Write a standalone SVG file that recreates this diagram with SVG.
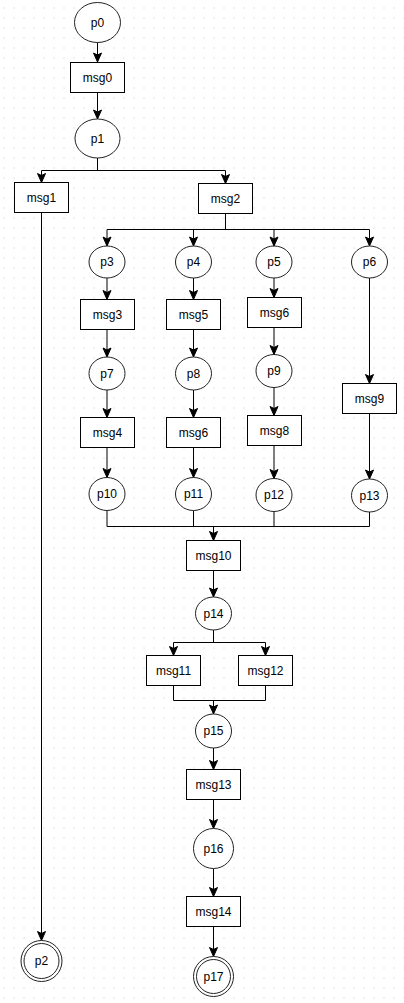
<svg xmlns="http://www.w3.org/2000/svg" width="404" height="1003" viewBox="0 0 404 1003">
<defs>
<pattern id="grid" patternUnits="userSpaceOnUse" width="10" height="10">
<rect x="3.5" y="7.5" width="1" height="1" fill="#c8c8c8"/>
</pattern>
<marker id="arr" markerUnits="userSpaceOnUse" markerWidth="10" markerHeight="9" refX="9" refY="4" orient="auto" overflow="visible">
<path d="M0,0 L9,4 L0,8 L2,4 Z" fill="#000" stroke="#000" stroke-width="1" stroke-linejoin="miter"/>
</marker>
</defs>
<style>
.n{fill:#fff;stroke:#000;stroke-width:1}
.p{fill:#fff;stroke:#222;stroke-width:1}
.t{font-family:"Liberation Sans",Arial,Helvetica,sans-serif;font-size:12px;fill:#000;text-anchor:middle}
.c{fill:none;stroke:#000;stroke-width:1}
.a{fill:none;stroke:#000;stroke-width:1;marker-end:url(#arr)}
</style>
<rect width="404" height="1003" fill="#fff"/>
<rect width="404" height="1003" fill="url(#grid)"/>

<g id="connectors">
<path class="a" d="M97.5,42 V62"/>
<path class="a" d="M97.5,92.5 V119"/>
<path class="c" d="M97.5,158 V170.5"/>
<path class="c" d="M41.5,170.5 H225.5"/>
<path class="a" d="M41.5,170.5 V182.5"/>
<path class="a" d="M225.5,170.5 V183.5"/>
<path class="a" d="M41.5,212.5 V940.5"/>
<path class="c" d="M225.5,213.5 V229.5"/>
<path class="c" d="M107,229.5 H369.5"/>
<path class="a" d="M107,229.5 V246"/>
<path class="a" d="M193.5,229.5 V246"/>
<path class="a" d="M274,229.5 V246"/>
<path class="a" d="M369.5,229.5 V246"/>
<path class="a" d="M107,278 V299.5"/>
<path class="a" d="M193.5,278 V299.5"/>
<path class="a" d="M274,278 V297.5"/>
<path class="a" d="M369.5,278 V383.5"/>
<path class="a" d="M107,329.5 V357"/>
<path class="a" d="M193.5,329.5 V357"/>
<path class="a" d="M274,327.5 V354.5"/>
<path class="a" d="M107,390 V417.5"/>
<path class="a" d="M193.5,390 V417.5"/>
<path class="a" d="M274,387.5 V415.5"/>
<path class="a" d="M107,447.5 V477.5"/>
<path class="a" d="M193.5,447.5 V477.5"/>
<path class="a" d="M274,445.5 V478.5"/>
<path class="a" d="M369.5,413.5 V479"/>
<path class="c" d="M107,510.5 V526.5 M193.5,510.5 V526.5 M274,511.5 V526.5 M369.5,512 V526.5 M107,526.5 H369.5"/>
<path class="a" d="M213.5,526.5 V540.5"/>
<path class="a" d="M213.5,570.5 V597"/>
<path class="c" d="M213.5,630 V642.5 M173.5,642.5 H265.5"/>
<path class="a" d="M173.5,642.5 V655.5"/>
<path class="a" d="M265.5,642.5 V655.5"/>
<path class="c" d="M173.5,685.5 V700.5 M265.5,685.5 V700.5 M173.5,700.5 H265.5"/>
<path class="a" d="M213.5,700.5 V714"/>
<path class="a" d="M213.5,748 V769.5"/>
<path class="a" d="M213.5,799.5 V828.5"/>
<path class="a" d="M213.5,868.5 V896.5"/>
<path class="a" d="M213.5,926.5 V956.5"/>
</g>

<g id="p0"><ellipse class="p" cx="97.5" cy="22.5" rx="23" ry="20"/><text class="t" x="97.5" y="26.5">p0</text></g>
<g id="msg0"><rect class="n" x="70.5" y="62.5" width="54" height="30"/><text class="t" x="97.5" y="81.5">msg0</text></g>
<g id="p1"><ellipse class="p" cx="97.5" cy="138.5" rx="22.5" ry="19.5"/><text class="t" x="97.5" y="142.5">p1</text></g>
<g id="msg1"><rect class="n" x="14.5" y="182.5" width="54" height="30"/><text class="t" x="41.5" y="201.5">msg1</text></g>
<g id="msg2"><rect class="n" x="198.5" y="183.5" width="54" height="30"/><text class="t" x="225.5" y="202.5">msg2</text></g>

<g id="p3"><ellipse class="p" cx="107" cy="262" rx="18" ry="16"/><text class="t" x="107" y="266">p3</text></g>
<g id="p4"><ellipse class="p" cx="193.5" cy="262" rx="18" ry="16"/><text class="t" x="193.5" y="266">p4</text></g>
<g id="p5"><ellipse class="p" cx="274" cy="262" rx="18" ry="16"/><text class="t" x="274" y="266">p5</text></g>
<g id="p6"><ellipse class="p" cx="369.5" cy="262" rx="18" ry="16"/><text class="t" x="369.5" y="266">p6</text></g>

<g id="msg3"><rect class="n" x="80.5" y="299.5" width="54" height="30"/><text class="t" x="107.5" y="318.5">msg3</text></g>
<g id="msg5"><rect class="n" x="166.5" y="299.5" width="54" height="30"/><text class="t" x="193.5" y="318.5">msg5</text></g>
<g id="msg6a"><rect class="n" x="247.5" y="297.5" width="54" height="30"/><text class="t" x="274.5" y="316.5">msg6</text></g>

<g id="p7"><ellipse class="p" cx="107" cy="373.5" rx="18" ry="16.5"/><text class="t" x="107" y="377.5">p7</text></g>
<g id="p8"><ellipse class="p" cx="193.5" cy="373.5" rx="18" ry="16.5"/><text class="t" x="193.5" y="377.5">p8</text></g>
<g id="p9"><ellipse class="p" cx="274" cy="371" rx="18" ry="16.5"/><text class="t" x="274" y="375">p9</text></g>
<g id="msg9"><rect class="n" x="342.5" y="383.5" width="54" height="30"/><text class="t" x="369.5" y="402.5">msg9</text></g>

<g id="msg4"><rect class="n" x="80.5" y="417.5" width="54" height="30"/><text class="t" x="107.5" y="436.5">msg4</text></g>
<g id="msg6b"><rect class="n" x="166.5" y="417.5" width="54" height="30"/><text class="t" x="193.5" y="436.5">msg6</text></g>
<g id="msg8"><rect class="n" x="247.5" y="415.5" width="54" height="30"/><text class="t" x="274.5" y="434.5">msg8</text></g>

<g id="p10"><ellipse class="p" cx="107" cy="494" rx="18" ry="16.5"/><text class="t" x="107" y="498">p10</text></g>
<g id="p11"><ellipse class="p" cx="193.5" cy="494" rx="18" ry="16.5"/><text class="t" x="193.5" y="498">p11</text></g>
<g id="p12"><ellipse class="p" cx="274" cy="495" rx="18" ry="16.5"/><text class="t" x="274" y="499">p12</text></g>
<g id="p13"><ellipse class="p" cx="369.5" cy="495.5" rx="18" ry="16.5"/><text class="t" x="369.5" y="499.5">p13</text></g>

<g id="msg10"><rect class="n" x="186.5" y="540.5" width="54" height="30"/><text class="t" x="213.5" y="559.5">msg10</text></g>
<g id="p14"><ellipse class="p" cx="213.5" cy="613.5" rx="18" ry="16.5"/><text class="t" x="213.5" y="617.5">p14</text></g>
<g id="msg11"><rect class="n" x="146.5" y="655.5" width="54" height="30"/><text class="t" x="173.5" y="674.5">msg11</text></g>
<g id="msg12"><rect class="n" x="238.5" y="655.5" width="54" height="30"/><text class="t" x="265.5" y="674.5">msg12</text></g>
<g id="p15"><ellipse class="p" cx="213.5" cy="731" rx="18" ry="17"/><text class="t" x="213.5" y="735">p15</text></g>
<g id="msg13"><rect class="n" x="186.5" y="769.5" width="54" height="30"/><text class="t" x="213.5" y="788.5">msg13</text></g>
<g id="p16"><ellipse class="p" cx="213.5" cy="848.5" rx="20" ry="20"/><text class="t" x="213.5" y="852.5">p16</text></g>
<g id="msg14"><rect class="n" x="186.5" y="896.5" width="54" height="30"/><text class="t" x="213.5" y="915.5">msg14</text></g>
<g id="p17"><circle class="p" cx="213.5" cy="976.5" r="20"/><circle class="p" cx="213.5" cy="976.5" r="17"/><text class="t" x="213.5" y="980.5">p17</text></g>
<g id="p2"><circle class="p" cx="41.5" cy="961" r="20.5"/><circle class="p" cx="41.5" cy="961" r="17.5"/><text class="t" x="41.5" y="965">p2</text></g>
</svg>
